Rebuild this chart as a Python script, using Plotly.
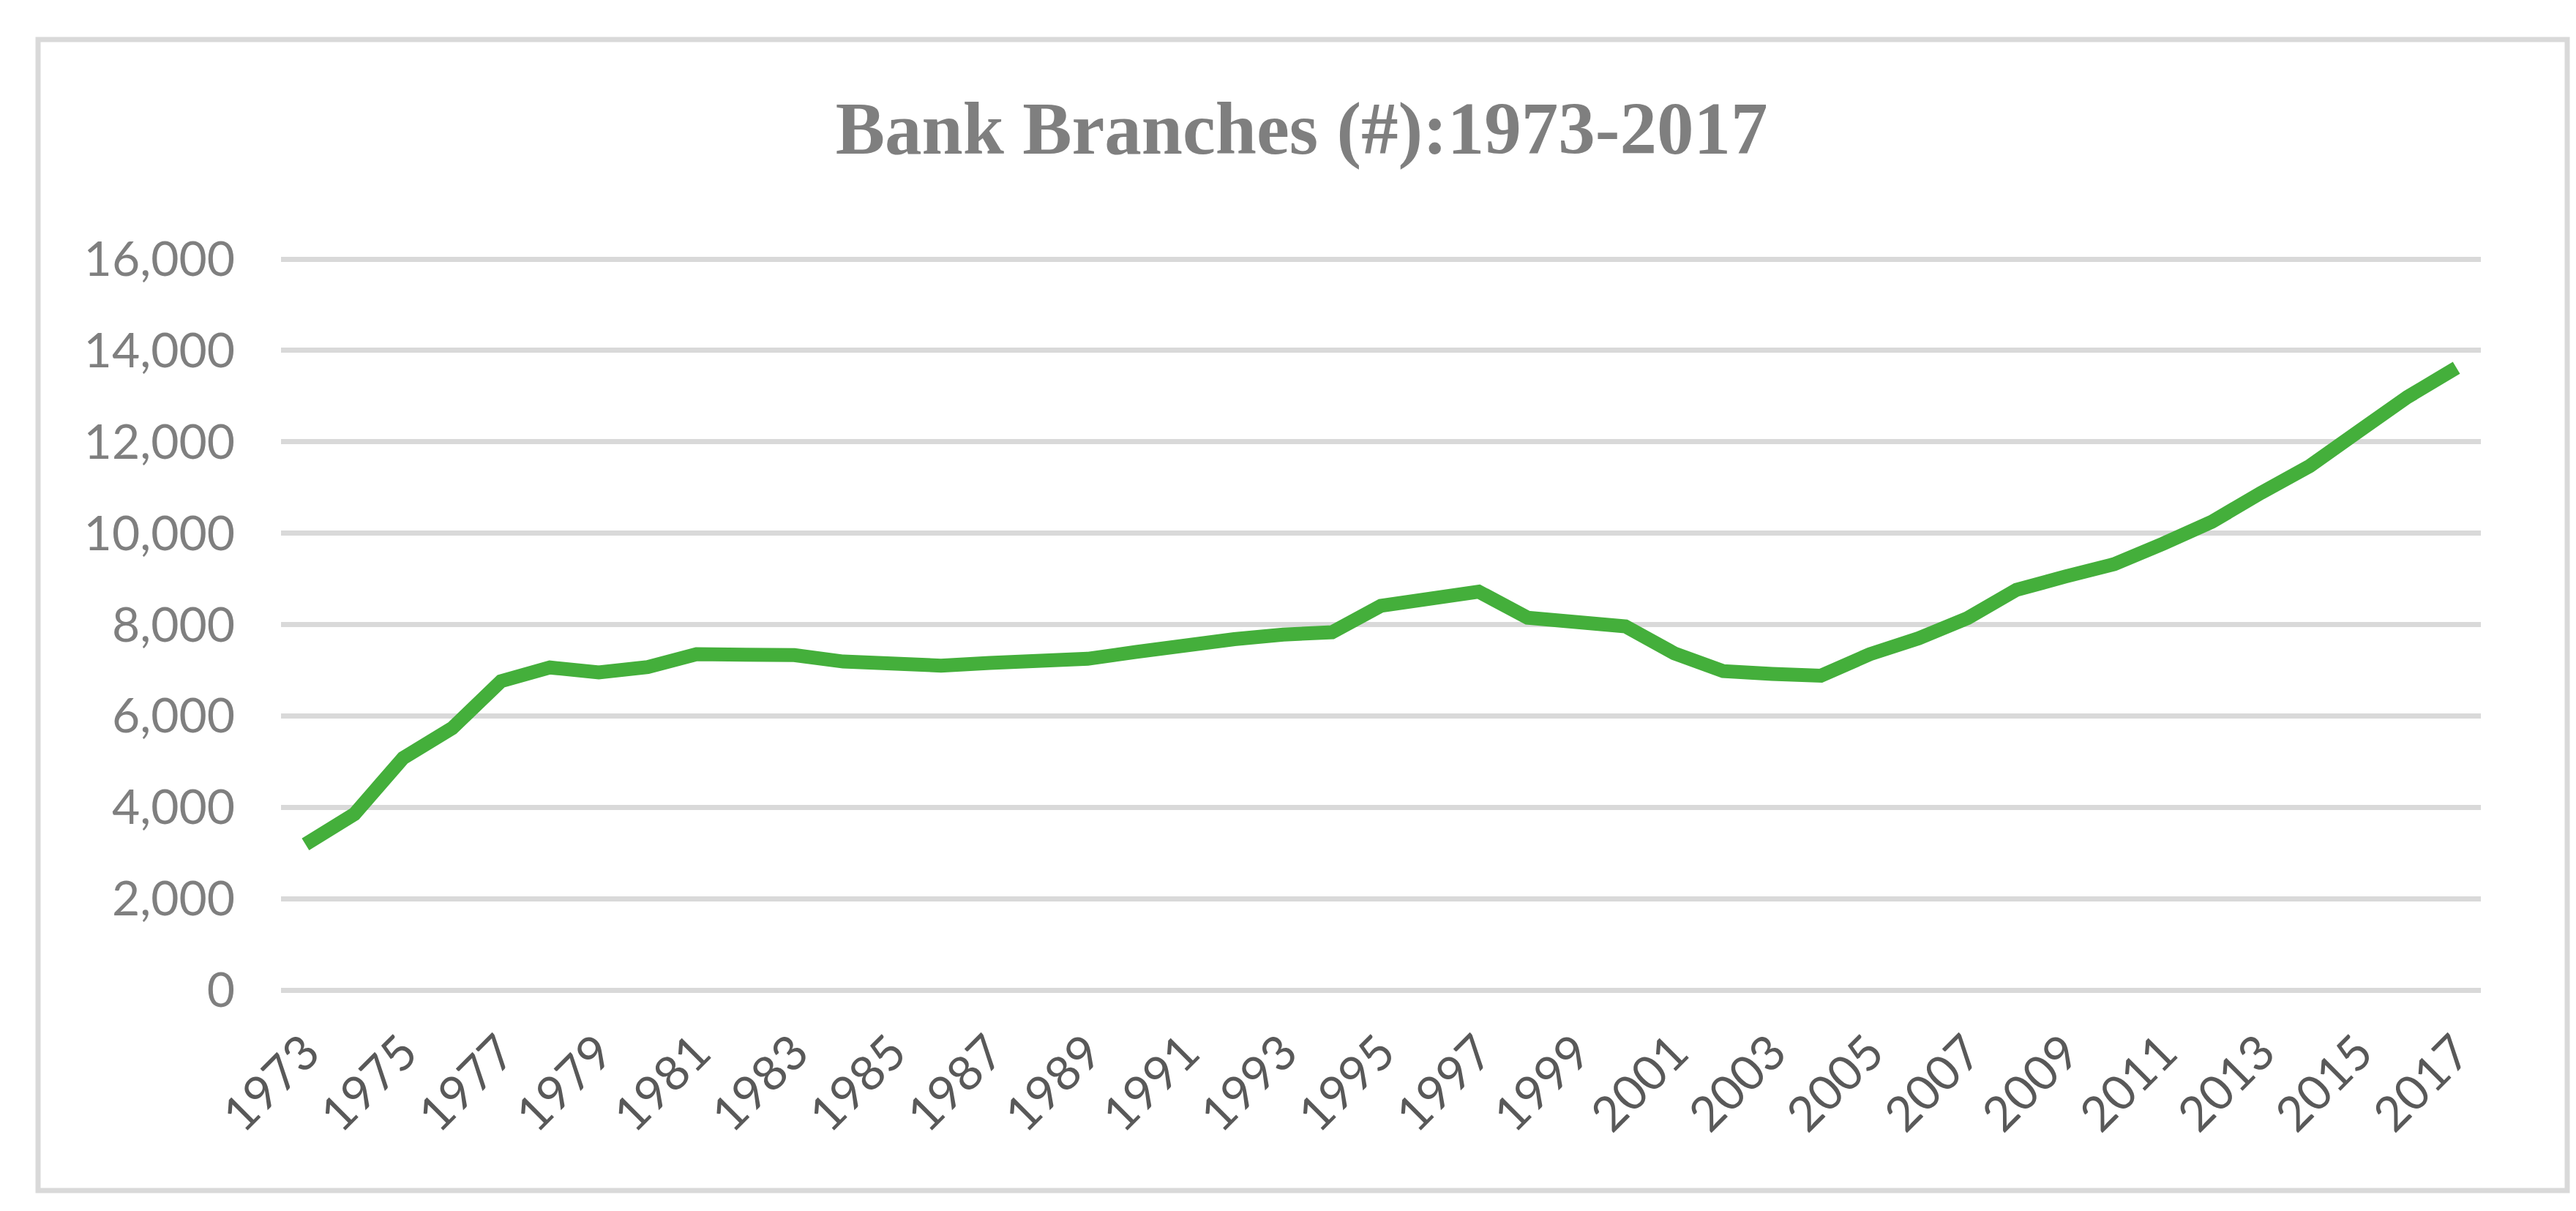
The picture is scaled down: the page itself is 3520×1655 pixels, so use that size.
import plotly.graph_objects as go

# ---- data ----
years = list(range(1973, 2018))
branches = [3190, 3850, 5080, 5730, 6760, 7060, 6950, 7070, 7350, 7370,
            7330, 7190, 7120, 7100, 7160, 7200, 7250, 7400, 7570, 7680,
            7780, 7830, 8410, 8600, 8720, 8150, 8080, 7960, 7370, 6980,
            6920, 6880, 7350, 7700, 8140, 8760, 9050, 9320, 9770, 10250,
            10880, 11470, 12230, 12980, 13620]
x_tick_labels = [str(y) for y in years[::2]]
y_tick_values = list(range(0, 16001, 2000))
title_text = "Bank Branches (#):1973-2017"

W, H = 3520, 1655
# plot area in px; y range padded by 4px on each side so edge gridlines show
L, R, T, B = 376, 3382, 342, 1349
Y_PAD = 64

def px_x(px):
    return (px - L) / (R - L)

def px_y(py):
    return (B - py) / (B - T)

fig = go.Figure()
fig.add_trace(go.Scatter(
    x=years, y=branches, mode="lines",
    line=dict(color="#44AF3B", width=19, shape="linear"),
    showlegend=False, hoverinfo="x+y",
))

fig.update_layout(
    width=W, height=H,
    margin=dict(l=L, r=W - R, t=T, b=H - B, pad=0),
    paper_bgcolor="white", plot_bgcolor="white",
    title=dict(
        text=title_text,
        font=dict(family="Liberation Serif", size=101, color="#7F7F7F", weight="bold"),
        x=0.503, xanchor="center", xref="container",
        y=1 - 167 / H, yanchor="middle", yref="container",
    ),
    xaxis=dict(
        range=[years[0] - 0.5, years[-1] + 0.5],
        tickmode="array", tickvals=years[::2], ticktext=x_tick_labels,
        tickangle=-45,
        tickfont=dict(family="Lato", size=66, color="#595959"),
        showgrid=False, zeroline=False,
        showline=False, ticks="", ticklabelstandoff=28,
    ),
    yaxis=dict(
        range=[-Y_PAD, 16000 + Y_PAD], tickmode="array", tickvals=y_tick_values,
        tickformat=",", tickfont=dict(family="Lato", size=66, color="#7F7F7F"),
        showgrid=True, gridcolor="#D9D9D9", gridwidth=7,
        zeroline=False, showline=False, ticks="", ticklabelstandoff=62,
    ),
    shapes=[dict(
        type="rect", xref="paper", yref="paper",
        x0=px_x(44), x1=px_x(3500), y0=px_y(1619), y1=px_y(46),
        line=dict(color="#D9D9D9", width=7), fillcolor="rgba(0,0,0,0)",
        layer="below",
    )],
)

fig.write_html("out.html")
